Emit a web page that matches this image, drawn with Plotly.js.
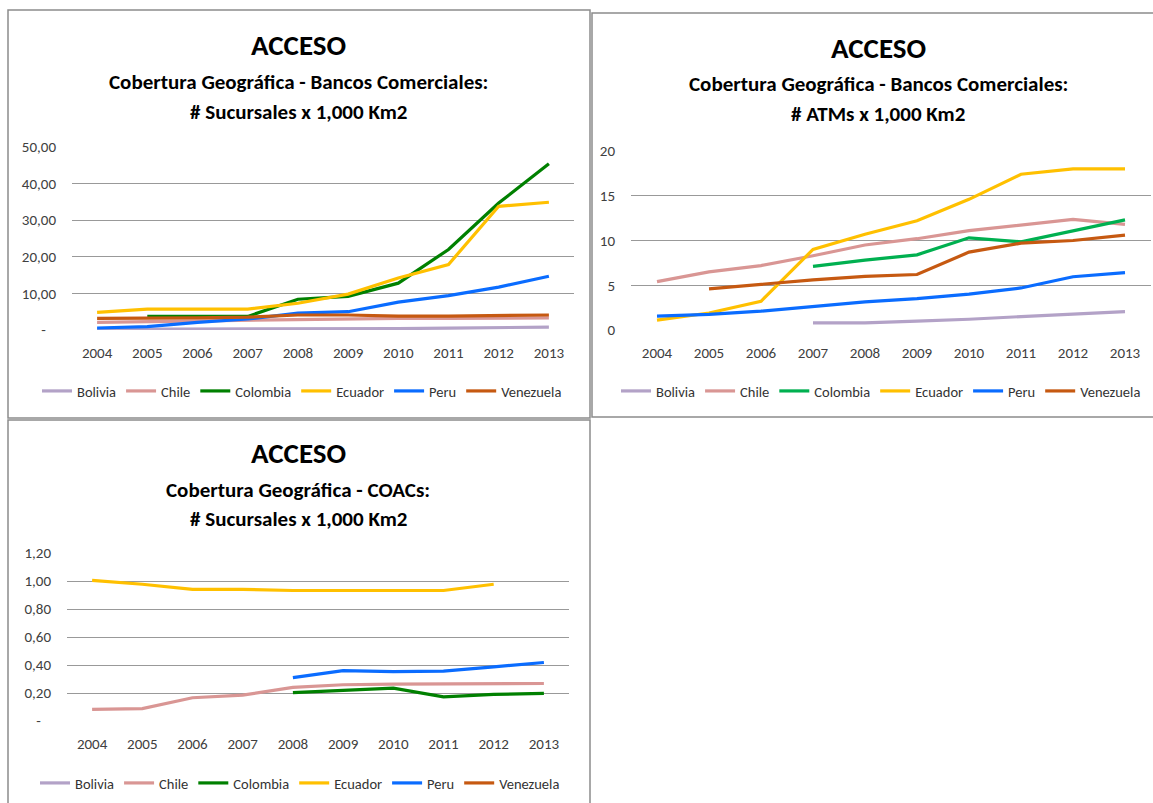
<!DOCTYPE html>
<html><head><meta charset="utf-8">
<script src="https://cdn.plot.ly/plotly-3.0.1.min.js"></script>
<style>body{margin:0;background:#fff}#chart{width:1153px;height:803px}</style>
</head><body><div id="chart"></div>
<script>
const years = ["2004","2005","2006","2007","2008","2009","2010","2011","2012","2013"];
const countries = ["Bolivia","Chile","Colombia","Ecuador","Peru","Venezuela"];

// Panel 1: Bancos Comerciales - # Sucursales x 1,000 Km2
const suc_bolivia   = [0.2, 0.2, 0.3, 0.3, 0.3, 0.4, 0.4, 0.5, 0.6, 0.8];
const suc_chile     = [2.1, 2.3, 2.6, 2.8, 3.0, 3.2, 3.2, 3.2, 3.3, 3.3];
const suc_colombia  = [null, 3.7, 3.7, 3.7, 8.4, 9.2, 12.8, 22.0, 34.7, 45.4];
const suc_ecuador   = [4.8, 5.7, 5.7, 5.7, 7.3, 9.8, 14.2, 17.9, 33.8, 34.9];
const suc_peru      = [0.55, 0.9, 2.1, 3.0, 4.6, 5.0, 7.6, 9.4, 11.7, 14.7];
const suc_venezuela = [3.2, 3.2, 3.3, 3.5, 4.1, 4.1, 3.8, 3.8, 4.0, 4.1];
const suc_ticks = ["-\u00a0\u00a0\u00a0", "10,00", "20,00", "30,00", "40,00", "50,00"];

// Panel 2: Bancos Comerciales - # ATMs x 1,000 Km2
const atm_bolivia   = [null, null, null, 0.8, 0.8, 1.0, 1.2, 1.5, 1.8, 2.05];
const atm_chile     = [5.4, 6.5, 7.2, 8.3, 9.5, 10.2, 11.1, 11.7, 12.35, 11.8];
const atm_colombia  = [null, null, null, 7.1, 7.8, 8.4, 10.3, 9.85, 11.1, 12.3];
const atm_ecuador   = [1.1, 1.9, 3.2, 9.0, 10.7, 12.2, 14.6, 17.4, 18.0, 18.0];
const atm_peru      = [1.55, 1.75, 2.1, 2.6, 3.15, 3.5, 4.0, 4.7, 5.95, 6.4];
const atm_venezuela = [null, 4.6, 5.1, 5.6, 6.0, 6.2, 8.7, 9.7, 10.0, 10.6];
const atm_ticks = ["0", "5", "10", "15", "20"];

// Panel 3: COACs - # Sucursales x 1,000 Km2
const coac_bolivia   = [null, null, null, null, null, null, null, null, null, null];
const coac_chile     = [0.083, 0.088, 0.166, 0.185, 0.24, 0.259, 0.264, 0.264, 0.268, 0.268];
const coac_colombia  = [null, null, null, null, 0.202, 0.221, 0.235, 0.173, 0.19, 0.197];
const coac_ecuador   = [1.005, 0.977, 0.94, 0.94, 0.932, 0.932, 0.932, 0.932, 0.977, null];
const coac_peru      = [null, null, null, null, 0.31, 0.36, 0.352, 0.356, 0.387, 0.418];
const coac_venezuela = [null, null, null, null, null, null, null, null, null, null];
const coac_ticks = ["-\u00a0\u00a0\u00a0", "0,20", "0,40", "0,60", "0,80", "1,00", "1,20"];

const FONT = "Carlito, 'Liberation Sans Narrow', 'Arial Narrow', 'DejaVu Sans Condensed', 'Liberation Sans', Arial, sans-serif";
const colorsA = ["#B3A2C7", "#D99694", "#008000", "#FFC000", "#0A6CFF", "#C65911"];
const colorsB = ["#B3A2C7", "#D99694", "#00B050", "#FFC000", "#0A6CFF", "#C65911"];

const W = 1153, H = 803;
const px = v => v / W;
const py = v => 1 - v / H;

const traces = [];
function addPanel(series, colors, ax, leg) {
  series.forEach((s, i) => {
    traces.push({
      x: years, y: s, name: countries[i], type: "scatter", mode: "lines",
      line: {color: colors[i], width: 3.2},
      xaxis: "x" + (ax === 1 ? "" : ax), yaxis: "y" + (ax === 1 ? "" : ax),
      legend: leg, connectgaps: false, hoverinfo: "skip"
    });
  });
}
addPanel([suc_bolivia, suc_chile, suc_colombia, suc_ecuador, suc_peru, suc_venezuela], colorsA, 1, "legend");
addPanel([atm_bolivia, atm_chile, atm_colombia, atm_ecuador, atm_peru, atm_venezuela], colorsB, 2, "legend2");
addPanel([coac_bolivia, coac_chile, coac_colombia, coac_ecuador, coac_peru, coac_venezuela], colorsA, 3, "legend3");

const tickFont = {family: FONT, size: 15, color: "#404040"};
function xax(x0, x1, anchor) {
  return {
    type: "category", domain: [px(x0), px(x1)], anchor: anchor,
    range: [-0.5, years.length - 0.5], autorange: false,
    showgrid: false, zeroline: false, showline: false,
    ticks: "outside", ticklen: 9, tickcolor: "rgba(0,0,0,0)",
    tickfont: tickFont, fixedrange: true
  };
}
function yax(top, bot, anchor, range, vals, text) {
  return {
    domain: [py(bot), py(top)], anchor: anchor, range: range,
    tickvals: vals, ticktext: text,
    showgrid: true, gridcolor: "#999999", gridwidth: 1,
    zeroline: false, showline: false,
    ticks: "outside", ticklen: 12, tickcolor: "rgba(0,0,0,0)",
    tickfont: tickFont, fixedrange: true
  };
}

const legFont = {family: FONT, size: 14.5, color: "#333"};
function leg(cx, cy) {
  return {orientation: "h", x: px(cx), y: py(cy), xanchor: "center", yanchor: "middle",
          font: legFont, itemwidth: 30, traceorder: "normal", bgcolor: "rgba(0,0,0,0)",
          tracegroupgap: 0, itemclick: false, itemdoubleclick: false};
}

function titleAnn(cx, y, text, size) {
  return {xref: "paper", yref: "paper", x: px(cx), y: py(y), xanchor: "center", yanchor: "middle",
          text: "<b>" + text + "</b>", showarrow: false, font: {family: FONT, size: size, color: "#000"}};
}

const annotations = [
  titleAnn(299, 45, "ACCESO", 29),
  titleAnn(299, 82, "Cobertura Geográfica - Bancos Comerciales:", 21),
  titleAnn(299, 112, "# Sucursales x 1,000 Km2", 21),
  titleAnn(878, 48, "ACCESO", 29),
  titleAnn(878, 84, "Cobertura Geográfica - Bancos Comerciales:", 21),
  titleAnn(878, 114, "# ATMs x 1,000 Km2", 21),
  titleAnn(298, 453, "ACCESO", 29),
  titleAnn(298, 490, "Cobertura Geográfica - COACs:", 21),
  titleAnn(298, 519, "# Sucursales x 1,000 Km2", 21)
];

function box(x0, y0, x1, y1) {
  return {type: "rect", xref: "paper", yref: "paper", x0: px(x0), x1: px(x1), y0: py(y1), y1: py(y0),
          line: {color: "#8C8C8C", width: 1.5}, fillcolor: "rgba(0,0,0,0)", layer: "below"};
}

const layout = {
  width: W, height: H, margin: {l: 0, r: 0, t: 0, b: 0},
  paper_bgcolor: "#fff", plot_bgcolor: "rgba(0,0,0,0)",
  font: {family: FONT},
  showlegend: true,
  xaxis: xax(72, 574, "y"),
  yaxis: yax(147, 330, "x", [0, 50], [0, 10, 20, 30, 40, 50], suc_ticks),
  xaxis2: xax(631, 1151, "y2"),
  yaxis2: yax(151, 330, "x2", [0, 20], [0, 5, 10, 15, 20], atm_ticks),
  xaxis3: xax(67, 569, "y3"),
  yaxis3: yax(553, 721, "x3", [0, 1.2], [0, 0.2, 0.4, 0.6, 0.8, 1.0, 1.2], coac_ticks),
  legend: leg(302, 391),
  legend2: leg(881, 391),
  legend3: leg(300, 783),
  annotations: annotations,
  shapes: [box(8, 10, 590, 418), box(592, 13, 1160, 417), box(8, 420, 590, 810)]
};

Plotly.newPlot("chart", traces, layout, {staticPlot: true, displayModeBar: false});
</script>
</body></html>
